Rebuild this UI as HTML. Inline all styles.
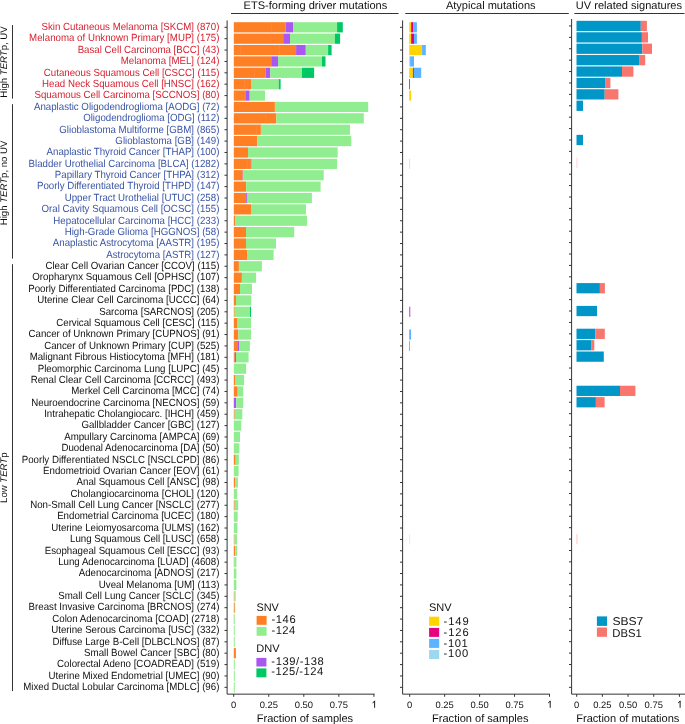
<!DOCTYPE html><html><head><meta charset="utf-8"><style>html,body{margin:0;padding:0;background:#fff;}svg{display:block}text{font-family:"Liberation Sans",sans-serif;text-rendering:geometricPrecision;}</style></head><body>
<svg width="685" height="724" viewBox="0 0 685 724" style="will-change:transform">
<rect x="0" y="0" width="685" height="724" fill="#fff"/>
<g font-size="10.4" text-anchor="end">
<text x="219.4" y="30.10" fill="#D62232" textLength="177.92" lengthAdjust="spacingAndGlyphs">Skin Cutaneous Melanoma [SKCM] (870)</text>
<text x="219.4" y="41.48" fill="#D62232" textLength="190.29" lengthAdjust="spacingAndGlyphs">Melanoma of Unknown Primary [MUP] (175)</text>
<text x="219.4" y="52.86" fill="#D62232" textLength="141.77" lengthAdjust="spacingAndGlyphs">Basal Cell Carcinoma [BCC] (43)</text>
<text x="219.4" y="64.24" fill="#D62232" textLength="98.66" lengthAdjust="spacingAndGlyphs">Melanoma [MEL] (124)</text>
<text x="219.4" y="75.62" fill="#D62232" textLength="175.58" lengthAdjust="spacingAndGlyphs">Cutaneous Squamous Cell [CSCC] (115)</text>
<text x="219.4" y="87.00" fill="#D62232" textLength="177.37" lengthAdjust="spacingAndGlyphs">Head Neck Squamous Cell [HNSC] (162)</text>
<text x="219.4" y="98.38" fill="#D62232" textLength="184.90" lengthAdjust="spacingAndGlyphs">Squamous Cell Carcinoma [SCCNOS] (80)</text>
<text x="219.4" y="109.76" fill="#3A55A6" textLength="185.47" lengthAdjust="spacingAndGlyphs">Anaplastic Oligodendroglioma [AODG] (72)</text>
<text x="219.4" y="121.14" fill="#3A55A6" textLength="136.22" lengthAdjust="spacingAndGlyphs">Oligodendroglioma [ODG] (112)</text>
<text x="219.4" y="132.52" fill="#3A55A6" textLength="160.10" lengthAdjust="spacingAndGlyphs">Glioblastoma Multiforme [GBM] (865)</text>
<text x="219.4" y="143.90" fill="#3A55A6" textLength="104.05" lengthAdjust="spacingAndGlyphs">Glioblastoma [GB] (149)</text>
<text x="219.4" y="155.28" fill="#3A55A6" textLength="172.88" lengthAdjust="spacingAndGlyphs">Anaplastic Thyroid Cancer [THAP] (100)</text>
<text x="219.4" y="166.66" fill="#3A55A6" textLength="190.86" lengthAdjust="spacingAndGlyphs">Bladder Urothelial Carcinoma [BLCA] (1282)</text>
<text x="219.4" y="178.04" fill="#3A55A6" textLength="164.60" lengthAdjust="spacingAndGlyphs">Papillary Thyroid Cancer [THPA] (312)</text>
<text x="219.4" y="189.42" fill="#3A55A6" textLength="182.40" lengthAdjust="spacingAndGlyphs">Poorly Differentiated Thyroid [THPD] (147)</text>
<text x="219.4" y="200.80" fill="#3A55A6" textLength="154.71" lengthAdjust="spacingAndGlyphs">Upper Tract Urothelial [UTUC] (258)</text>
<text x="219.4" y="212.18" fill="#3A55A6" textLength="177.89" lengthAdjust="spacingAndGlyphs">Oral Cavity Squamous Cell [OCSC] (155)</text>
<text x="219.4" y="223.56" fill="#3A55A6" textLength="166.04" lengthAdjust="spacingAndGlyphs">Hepatocellular Carcinoma [HCC] (233)</text>
<text x="219.4" y="234.94" fill="#3A55A6" textLength="154.70" lengthAdjust="spacingAndGlyphs">High-Grade Glioma [HGGNOS] (58)</text>
<text x="219.4" y="246.32" fill="#3A55A6" textLength="166.58" lengthAdjust="spacingAndGlyphs">Anaplastic Astrocytoma [AASTR] (195)</text>
<text x="219.4" y="257.70" fill="#3A55A6" textLength="113.20" lengthAdjust="spacingAndGlyphs">Astrocytoma [ASTR] (127)</text>
<text x="219.4" y="269.08" fill="#111" textLength="173.94" lengthAdjust="spacingAndGlyphs">Clear Cell Ovarian Cancer [CCOV] (115)</text>
<text x="219.4" y="280.46" fill="#111" textLength="187.07" lengthAdjust="spacingAndGlyphs">Oropharynx Squamous Cell [OPHSC] (107)</text>
<text x="219.4" y="291.84" fill="#111" textLength="191.21" lengthAdjust="spacingAndGlyphs">Poorly Differentiated Carcinoma [PDC] (138)</text>
<text x="219.4" y="303.22" fill="#111" textLength="182.19" lengthAdjust="spacingAndGlyphs">Uterine Clear Cell Carcinoma [UCCC] (64)</text>
<text x="219.4" y="314.60" fill="#111" textLength="120.21" lengthAdjust="spacingAndGlyphs">Sarcoma [SARCNOS] (205)</text>
<text x="219.4" y="325.98" fill="#111" textLength="163.16" lengthAdjust="spacingAndGlyphs">Cervical Squamous Cell [CESC] (115)</text>
<text x="219.4" y="337.36" fill="#111" textLength="190.82" lengthAdjust="spacingAndGlyphs">Cancer of Unknown Primary [CUPNOS] (91)</text>
<text x="219.4" y="348.74" fill="#111" textLength="175.20" lengthAdjust="spacingAndGlyphs">Cancer of Unknown Primary [CUP] (525)</text>
<text x="219.4" y="360.12" fill="#111" textLength="189.75" lengthAdjust="spacingAndGlyphs">Malignant Fibrous Histiocytoma [MFH] (181)</text>
<text x="219.4" y="371.50" fill="#111" textLength="181.69" lengthAdjust="spacingAndGlyphs">Pleomorphic Carcinoma Lung [LUPC] (45)</text>
<text x="219.4" y="382.88" fill="#111" textLength="188.67" lengthAdjust="spacingAndGlyphs">Renal Clear Cell Carcinoma [CCRCC] (493)</text>
<text x="219.4" y="394.26" fill="#111" textLength="148.22" lengthAdjust="spacingAndGlyphs">Merkel Cell Carcinoma [MCC] (74)</text>
<text x="219.4" y="405.64" fill="#111" textLength="188.15" lengthAdjust="spacingAndGlyphs">Neuroendocrine Carcinoma [NECNOS] (59)</text>
<text x="219.4" y="417.02" fill="#111" textLength="175.22" lengthAdjust="spacingAndGlyphs">Intrahepatic Cholangiocarc. [IHCH] (459)</text>
<text x="219.4" y="428.40" fill="#111" textLength="138.02" lengthAdjust="spacingAndGlyphs">Gallbladder Cancer [GBC] (127)</text>
<text x="219.4" y="439.78" fill="#111" textLength="155.24" lengthAdjust="spacingAndGlyphs">Ampullary Carcinoma [AMPCA] (69)</text>
<text x="219.4" y="451.16" fill="#111" textLength="157.99" lengthAdjust="spacingAndGlyphs">Duodenal Adenocarcinoma [DA] (50)</text>
<text x="219.4" y="462.54" fill="#111" textLength="197.67" lengthAdjust="spacingAndGlyphs">Poorly Differentiated NSCLC [NSCLCPD] (86)</text>
<text x="219.4" y="473.92" fill="#111" textLength="176.29" lengthAdjust="spacingAndGlyphs">Endometrioid Ovarian Cancer [EOV] (61)</text>
<text x="219.4" y="485.30" fill="#111" textLength="142.87" lengthAdjust="spacingAndGlyphs">Anal Squamous Cell [ANSC] (98)</text>
<text x="219.4" y="496.68" fill="#111" textLength="148.80" lengthAdjust="spacingAndGlyphs">Cholangiocarcinoma [CHOL] (120)</text>
<text x="219.4" y="508.06" fill="#111" textLength="189.23" lengthAdjust="spacingAndGlyphs">Non-Small Cell Lung Cancer [NSCLC] (277)</text>
<text x="219.4" y="519.44" fill="#111" textLength="162.26" lengthAdjust="spacingAndGlyphs">Endometrial Carcinoma [UCEC] (180)</text>
<text x="219.4" y="530.82" fill="#111" textLength="168.20" lengthAdjust="spacingAndGlyphs">Uterine Leiomyosarcoma [ULMS] (162)</text>
<text x="219.4" y="542.20" fill="#111" textLength="149.35" lengthAdjust="spacingAndGlyphs">Lung Squamous Cell [LUSC] (658)</text>
<text x="219.4" y="553.58" fill="#111" textLength="174.69" lengthAdjust="spacingAndGlyphs">Esophageal Squamous Cell [ESCC] (93)</text>
<text x="219.4" y="564.96" fill="#111" textLength="161.23" lengthAdjust="spacingAndGlyphs">Lung Adenocarcinoma [LUAD] (4608)</text>
<text x="219.4" y="576.34" fill="#111" textLength="140.71" lengthAdjust="spacingAndGlyphs">Adenocarcinoma [ADNOS] (217)</text>
<text x="219.4" y="587.72" fill="#111" textLength="120.57" lengthAdjust="spacingAndGlyphs">Uveal Melanoma [UM] (113)</text>
<text x="219.4" y="599.10" fill="#111" textLength="161.20" lengthAdjust="spacingAndGlyphs">Small Cell Lung Cancer [SCLC] (345)</text>
<text x="219.4" y="610.48" fill="#111" textLength="190.83" lengthAdjust="spacingAndGlyphs">Breast Invasive Carcinoma [BRCNOS] (274)</text>
<text x="219.4" y="621.86" fill="#111" textLength="167.14" lengthAdjust="spacingAndGlyphs">Colon Adenocarcinoma [COAD] (2718)</text>
<text x="219.4" y="633.24" fill="#111" textLength="168.20" lengthAdjust="spacingAndGlyphs">Uterine Serous Carcinoma [USC] (332)</text>
<text x="219.4" y="644.62" fill="#111" textLength="166.94" lengthAdjust="spacingAndGlyphs">Diffuse Large B-Cell [DLBCLNOS] (87)</text>
<text x="219.4" y="656.00" fill="#111" textLength="135.31" lengthAdjust="spacingAndGlyphs">Small Bowel Cancer [SBC] (80)</text>
<text x="219.4" y="667.38" fill="#111" textLength="162.28" lengthAdjust="spacingAndGlyphs">Colorectal Adeno [COADREAD] (519)</text>
<text x="219.4" y="678.76" fill="#111" textLength="170.88" lengthAdjust="spacingAndGlyphs">Uterine Mixed Endometrial [UMEC] (90)</text>
<text x="219.4" y="690.14" fill="#111" textLength="196.23" lengthAdjust="spacingAndGlyphs">Mixed Ductal Lobular Carcinoma [MDLC] (96)</text>
</g>
<text transform="translate(6.7,62.0) rotate(-90)" font-size="9.6" text-anchor="middle" fill="#111">High <tspan font-style="italic">TERT</tspan>p, UV</text>
<text transform="translate(6.7,182.9) rotate(-90)" font-size="9.6" text-anchor="middle" fill="#111">High <tspan font-style="italic">TERT</tspan>p, no UV</text>
<text transform="translate(6.7,477.7) rotate(-90)" font-size="9.6" text-anchor="middle" fill="#111">Low <tspan font-style="italic">TERT</tspan>p</text>
<g stroke="#333" stroke-width="1">
<line x1="12.5" y1="25" x2="12.5" y2="98.6"/>
<line x1="12.5" y1="104.2" x2="12.5" y2="258.6"/>
<line x1="12.5" y1="264.2" x2="12.5" y2="691.1"/>
</g>
<g font-size="11.05" text-anchor="middle" fill="#111">
<text x="315.45" y="8.7">ETS-forming driver mutations</text>
<text x="490.74" y="8.7">Atypical mutations</text>
<text x="628.92" y="9.1">UV related signatures</text>
</g>
<g stroke="#333" stroke-width="1.1">
<line x1="231" y1="13.5" x2="398.6" y2="13.5"/>
<line x1="405.3" y1="13.5" x2="568.8" y2="13.5"/>
<line x1="574.4" y1="13.5" x2="684.5" y2="13.5"/>
</g>
<rect x="233.80" y="22.20" width="51.80" height="10.2" fill="#FF7F24"/>
<rect x="285.60" y="22.20" width="7.50" height="10.2" fill="#A957F0"/>
<rect x="293.10" y="22.20" width="44.00" height="10.2" fill="#90EE90"/>
<rect x="337.10" y="22.20" width="5.70" height="10.2" fill="#00C864"/>
<rect x="233.80" y="33.58" width="49.40" height="10.2" fill="#FF7F24"/>
<rect x="283.20" y="33.58" width="6.80" height="10.2" fill="#A957F0"/>
<rect x="290.00" y="33.58" width="44.90" height="10.2" fill="#90EE90"/>
<rect x="334.90" y="33.58" width="5.20" height="10.2" fill="#00C864"/>
<rect x="233.80" y="44.96" width="62.30" height="10.2" fill="#FF7F24"/>
<rect x="296.10" y="44.96" width="9.70" height="10.2" fill="#A957F0"/>
<rect x="305.80" y="44.96" width="22.30" height="10.2" fill="#90EE90"/>
<rect x="328.10" y="44.96" width="3.50" height="10.2" fill="#00C864"/>
<rect x="233.80" y="56.34" width="37.40" height="10.2" fill="#FF7F24"/>
<rect x="271.20" y="56.34" width="6.80" height="10.2" fill="#A957F0"/>
<rect x="278.00" y="56.34" width="44.00" height="10.2" fill="#90EE90"/>
<rect x="322.00" y="56.34" width="3.50" height="10.2" fill="#00C864"/>
<rect x="233.80" y="67.72" width="31.90" height="10.2" fill="#FF7F24"/>
<rect x="265.70" y="67.72" width="4.60" height="10.2" fill="#A957F0"/>
<rect x="270.30" y="67.72" width="31.70" height="10.2" fill="#90EE90"/>
<rect x="302.00" y="67.72" width="12.10" height="10.2" fill="#00C864"/>
<rect x="233.80" y="79.10" width="17.20" height="10.2" fill="#FF7F24"/>
<rect x="251.00" y="79.10" width="27.80" height="10.2" fill="#90EE90"/>
<rect x="278.80" y="79.10" width="1.80" height="10.2" fill="#00C864"/>
<rect x="233.80" y="90.48" width="12.20" height="10.2" fill="#FF7F24"/>
<rect x="246.00" y="90.48" width="3.70" height="10.2" fill="#A957F0"/>
<rect x="249.70" y="90.48" width="15.30" height="10.2" fill="#90EE90"/>
<rect x="233.80" y="101.86" width="41.10" height="10.2" fill="#FF7F24"/>
<rect x="274.90" y="101.86" width="93.30" height="10.2" fill="#90EE90"/>
<rect x="233.80" y="113.24" width="42.60" height="10.2" fill="#FF7F24"/>
<rect x="276.40" y="113.24" width="87.40" height="10.2" fill="#90EE90"/>
<rect x="233.80" y="124.62" width="27.10" height="10.2" fill="#FF7F24"/>
<rect x="260.90" y="124.62" width="89.10" height="10.2" fill="#90EE90"/>
<rect x="233.80" y="136.00" width="23.40" height="10.2" fill="#FF7F24"/>
<rect x="257.20" y="136.00" width="94.10" height="10.2" fill="#90EE90"/>
<rect x="233.80" y="147.38" width="14.20" height="10.2" fill="#FF7F24"/>
<rect x="248.00" y="147.38" width="89.70" height="10.2" fill="#90EE90"/>
<rect x="233.80" y="158.76" width="17.10" height="10.2" fill="#FF7F24"/>
<rect x="250.90" y="158.76" width="0.70" height="10.2" fill="#A957F0"/>
<rect x="251.60" y="158.76" width="85.50" height="10.2" fill="#90EE90"/>
<rect x="233.80" y="170.14" width="8.90" height="10.2" fill="#FF7F24"/>
<rect x="242.70" y="170.14" width="0.60" height="10.2" fill="#A957F0"/>
<rect x="243.30" y="170.14" width="80.40" height="10.2" fill="#90EE90"/>
<rect x="233.80" y="181.52" width="12.40" height="10.2" fill="#FF7F24"/>
<rect x="246.20" y="181.52" width="74.40" height="10.2" fill="#90EE90"/>
<rect x="233.80" y="192.90" width="12.40" height="10.2" fill="#FF7F24"/>
<rect x="246.20" y="192.90" width="1.30" height="10.2" fill="#A957F0"/>
<rect x="247.50" y="192.90" width="64.40" height="10.2" fill="#90EE90"/>
<rect x="233.80" y="204.28" width="17.20" height="10.2" fill="#FF7F24"/>
<rect x="251.00" y="204.28" width="55.00" height="10.2" fill="#90EE90"/>
<rect x="233.80" y="215.66" width="1.70" height="10.2" fill="#FF7F24"/>
<rect x="235.50" y="215.66" width="71.60" height="10.2" fill="#90EE90"/>
<rect x="233.80" y="227.04" width="12.20" height="10.2" fill="#FF7F24"/>
<rect x="246.00" y="227.04" width="48.20" height="10.2" fill="#90EE90"/>
<rect x="233.80" y="238.42" width="12.20" height="10.2" fill="#FF7F24"/>
<rect x="246.00" y="238.42" width="30.00" height="10.2" fill="#90EE90"/>
<rect x="233.80" y="249.80" width="13.30" height="10.2" fill="#FF7F24"/>
<rect x="247.10" y="249.80" width="26.50" height="10.2" fill="#90EE90"/>
<rect x="233.80" y="261.18" width="5.10" height="10.2" fill="#FF7F24"/>
<rect x="238.90" y="261.18" width="23.00" height="10.2" fill="#90EE90"/>
<rect x="233.80" y="272.56" width="8.10" height="10.2" fill="#FF7F24"/>
<rect x="241.90" y="272.56" width="14.20" height="10.2" fill="#90EE90"/>
<rect x="233.80" y="283.94" width="6.20" height="10.2" fill="#FF7F24"/>
<rect x="240.00" y="283.94" width="12.00" height="10.2" fill="#90EE90"/>
<rect x="233.80" y="295.32" width="2.20" height="10.2" fill="#FF7F24"/>
<rect x="236.00" y="295.32" width="15.20" height="10.2" fill="#90EE90"/>
<rect x="233.80" y="306.70" width="0.90" height="10.2" fill="#FF7F24"/>
<rect x="234.70" y="306.70" width="15.30" height="10.2" fill="#90EE90"/>
<rect x="250.00" y="306.70" width="1.00" height="10.2" fill="#00C864"/>
<rect x="233.80" y="318.08" width="3.80" height="10.2" fill="#FF7F24"/>
<rect x="237.60" y="318.08" width="13.40" height="10.2" fill="#90EE90"/>
<rect x="233.80" y="329.46" width="4.60" height="10.2" fill="#FF7F24"/>
<rect x="238.40" y="329.46" width="12.60" height="10.2" fill="#90EE90"/>
<rect x="233.80" y="340.84" width="4.20" height="10.2" fill="#FF7F24"/>
<rect x="238.00" y="340.84" width="1.00" height="10.2" fill="#A957F0"/>
<rect x="239.00" y="340.84" width="10.90" height="10.2" fill="#90EE90"/>
<rect x="233.80" y="352.22" width="1.00" height="10.2" fill="#FF7F24"/>
<rect x="234.80" y="352.22" width="1.20" height="10.2" fill="#A957F0"/>
<rect x="236.00" y="352.22" width="12.60" height="10.2" fill="#90EE90"/>
<rect x="233.80" y="363.60" width="12.30" height="10.2" fill="#90EE90"/>
<rect x="233.80" y="374.98" width="1.20" height="10.2" fill="#FF7F24"/>
<rect x="235.00" y="374.98" width="9.10" height="10.2" fill="#90EE90"/>
<rect x="233.80" y="386.36" width="3.90" height="10.2" fill="#FF7F24"/>
<rect x="237.70" y="386.36" width="5.50" height="10.2" fill="#90EE90"/>
<rect x="233.80" y="397.74" width="2.40" height="10.2" fill="#A957F0"/>
<rect x="236.20" y="397.74" width="7.00" height="10.2" fill="#90EE90"/>
<rect x="233.80" y="409.12" width="0.90" height="10.2" fill="#FF7F24"/>
<rect x="234.70" y="409.12" width="7.60" height="10.2" fill="#90EE90"/>
<rect x="233.80" y="420.50" width="7.40" height="10.2" fill="#90EE90"/>
<rect x="233.80" y="431.88" width="6.20" height="10.2" fill="#90EE90"/>
<rect x="233.80" y="443.26" width="5.60" height="10.2" fill="#90EE90"/>
<rect x="233.80" y="454.64" width="1.90" height="10.2" fill="#FF7F24"/>
<rect x="235.70" y="454.64" width="3.20" height="10.2" fill="#90EE90"/>
<rect x="233.80" y="466.02" width="4.80" height="10.2" fill="#90EE90"/>
<rect x="233.80" y="477.40" width="1.40" height="10.2" fill="#FF7F24"/>
<rect x="235.20" y="477.40" width="2.70" height="10.2" fill="#90EE90"/>
<rect x="233.80" y="488.78" width="3.40" height="10.2" fill="#90EE90"/>
<rect x="233.80" y="500.16" width="0.90" height="10.2" fill="#FF7F24"/>
<rect x="234.70" y="500.16" width="3.50" height="10.2" fill="#90EE90"/>
<rect x="233.80" y="511.54" width="3.90" height="10.2" fill="#90EE90"/>
<rect x="233.80" y="522.92" width="3.60" height="10.2" fill="#90EE90"/>
<rect x="233.80" y="534.30" width="0.70" height="10.2" fill="#FF7F24"/>
<rect x="234.50" y="534.30" width="2.50" height="10.2" fill="#90EE90"/>
<rect x="233.80" y="545.68" width="1.40" height="10.2" fill="#FF7F24"/>
<rect x="235.20" y="545.68" width="1.80" height="10.2" fill="#90EE90"/>
<rect x="233.80" y="557.06" width="0.40" height="10.2" fill="#FF7F24"/>
<rect x="234.20" y="557.06" width="2.20" height="10.2" fill="#90EE90"/>
<rect x="233.80" y="568.44" width="2.60" height="10.2" fill="#90EE90"/>
<rect x="233.80" y="579.82" width="2.60" height="10.2" fill="#90EE90"/>
<rect x="233.80" y="591.20" width="0.70" height="10.2" fill="#FF7F24"/>
<rect x="234.50" y="591.20" width="1.20" height="10.2" fill="#90EE90"/>
<rect x="233.80" y="602.58" width="1.00" height="10.2" fill="#FF7F24"/>
<rect x="234.80" y="602.58" width="0.40" height="10.2" fill="#90EE90"/>
<rect x="233.80" y="613.96" width="0.40" height="10.2" fill="#FF7F24"/>
<rect x="234.20" y="613.96" width="0.60" height="10.2" fill="#90EE90"/>
<rect x="233.80" y="625.34" width="1.00" height="10.2" fill="#90EE90"/>
<rect x="233.80" y="636.72" width="1.00" height="10.2" fill="#90EE90"/>
<rect x="233.80" y="648.10" width="2.10" height="10.2" fill="#FF7F24"/>
<rect x="233.80" y="659.48" width="1.00" height="10.2" fill="#90EE90"/>
<rect x="233.80" y="670.86" width="1.00" height="10.2" fill="#90EE90"/>
<rect x="233.80" y="682.24" width="1.00" height="10.2" fill="#90EE90"/>
<rect x="409.20" y="22.20" width="1.90" height="10.2" fill="#FFD500"/>
<rect x="411.10" y="22.20" width="1.90" height="10.2" fill="#E6007E"/>
<rect x="413.00" y="22.20" width="3.90" height="10.2" fill="#5CB3FF"/>
<rect x="409.20" y="33.58" width="1.90" height="10.2" fill="#FFD500"/>
<rect x="411.10" y="33.58" width="2.90" height="10.2" fill="#E6007E"/>
<rect x="414.00" y="33.58" width="2.90" height="10.2" fill="#5CB3FF"/>
<rect x="409.20" y="44.96" width="12.90" height="10.2" fill="#FFD500"/>
<rect x="422.10" y="44.96" width="3.70" height="10.2" fill="#5CB3FF"/>
<rect x="409.20" y="56.34" width="0.90" height="10.2" fill="#FFD500"/>
<rect x="410.10" y="56.34" width="3.90" height="10.2" fill="#5CB3FF"/>
<rect x="409.20" y="67.72" width="3.70" height="10.2" fill="#FFD500"/>
<rect x="412.90" y="67.72" width="1.00" height="10.2" fill="#E6007E"/>
<rect x="413.90" y="67.72" width="7.30" height="10.2" fill="#5CB3FF"/>
<rect x="409.20" y="79.10" width="0.80" height="10.2" fill="#E6007E"/>
<rect x="409.20" y="90.48" width="1.80" height="10.2" fill="#FFD500"/>
<rect x="409.20" y="158.76" width="0.90" height="10.2" fill="#F9CCEA"/>
<rect x="409.20" y="534.30" width="0.90" height="10.2" fill="#D6EDFA"/>
<rect x="409.20" y="306.70" width="1.10" height="10.2" fill="#C24FC8"/>
<rect x="409.20" y="329.46" width="1.80" height="10.2" fill="#5CB3FF"/>
<rect x="409.20" y="340.84" width="0.80" height="10.2" fill="#9A8AE8"/>
<rect x="576.50" y="20.82" width="64.30" height="10.25" fill="#0096C8"/>
<rect x="640.80" y="20.82" width="6.10" height="10.25" fill="#F8766D"/>
<rect x="576.50" y="32.23" width="65.40" height="10.25" fill="#0096C8"/>
<rect x="641.90" y="32.23" width="6.10" height="10.25" fill="#F8766D"/>
<rect x="576.50" y="43.63" width="65.80" height="10.25" fill="#0096C8"/>
<rect x="642.30" y="43.63" width="9.70" height="10.25" fill="#F8766D"/>
<rect x="576.50" y="55.03" width="63.10" height="10.25" fill="#0096C8"/>
<rect x="639.60" y="55.03" width="5.60" height="10.25" fill="#F8766D"/>
<rect x="576.50" y="66.44" width="45.50" height="10.25" fill="#0096C8"/>
<rect x="622.00" y="66.44" width="11.40" height="10.25" fill="#F8766D"/>
<rect x="576.50" y="77.84" width="28.60" height="10.25" fill="#0096C8"/>
<rect x="605.10" y="77.84" width="5.30" height="10.25" fill="#F8766D"/>
<rect x="576.50" y="89.24" width="28.20" height="10.25" fill="#0096C8"/>
<rect x="604.70" y="89.24" width="13.70" height="10.25" fill="#F8766D"/>
<rect x="576.50" y="100.65" width="6.50" height="10.25" fill="#0096C8"/>
<rect x="576.50" y="134.85" width="6.50" height="10.25" fill="#0096C8"/>
<rect x="576.50" y="157.66" width="0.90" height="10.25" fill="#FCD2D0"/>
<rect x="576.50" y="283.09" width="23.40" height="10.25" fill="#0096C8"/>
<rect x="599.90" y="283.09" width="5.00" height="10.25" fill="#F8766D"/>
<rect x="576.50" y="305.90" width="20.50" height="10.25" fill="#0096C8"/>
<rect x="576.50" y="328.71" width="18.90" height="10.25" fill="#0096C8"/>
<rect x="595.40" y="328.71" width="9.40" height="10.25" fill="#F8766D"/>
<rect x="576.50" y="340.11" width="14.60" height="10.25" fill="#0096C8"/>
<rect x="591.10" y="340.11" width="3.20" height="10.25" fill="#F8766D"/>
<rect x="576.50" y="351.51" width="27.30" height="10.25" fill="#0096C8"/>
<rect x="576.50" y="385.72" width="43.50" height="10.25" fill="#0096C8"/>
<rect x="620.00" y="385.72" width="15.40" height="10.25" fill="#F8766D"/>
<rect x="576.50" y="397.12" width="19.40" height="10.25" fill="#0096C8"/>
<rect x="595.90" y="397.12" width="8.70" height="10.25" fill="#F8766D"/>
<rect x="576.50" y="533.96" width="0.90" height="10.25" fill="#FFBEBE"/>
<g stroke="#FF9048" stroke-width="0.5">
<line x1="271.3" y1="22.20" x2="271.3" y2="32.40"/>
<line x1="240.4" y1="44.96" x2="240.4" y2="55.16"/>
<line x1="279.5" y1="44.96" x2="279.5" y2="55.16"/>
<line x1="254.4" y1="67.72" x2="254.4" y2="77.92"/>
<line x1="244.6" y1="79.10" x2="244.6" y2="89.30"/>
<line x1="235.4" y1="90.48" x2="235.4" y2="100.68"/>
<line x1="244.6" y1="90.48" x2="244.6" y2="100.68"/>
<line x1="265.4" y1="113.24" x2="265.4" y2="123.44"/>
<line x1="256.4" y1="124.62" x2="256.4" y2="134.82"/>
<line x1="247.1" y1="158.76" x2="247.1" y2="168.96"/>
</g>
<g stroke="#333" stroke-width="1" fill="none">
<path d="M227.1,20.4 V694.15 H374.6"/>
<line x1="224.5" y1="27.30" x2="227.1" y2="27.30"/>
<line x1="224.5" y1="38.68" x2="227.1" y2="38.68"/>
<line x1="224.5" y1="50.06" x2="227.1" y2="50.06"/>
<line x1="224.5" y1="61.44" x2="227.1" y2="61.44"/>
<line x1="224.5" y1="72.82" x2="227.1" y2="72.82"/>
<line x1="224.5" y1="84.20" x2="227.1" y2="84.20"/>
<line x1="224.5" y1="95.58" x2="227.1" y2="95.58"/>
<line x1="224.5" y1="106.96" x2="227.1" y2="106.96"/>
<line x1="224.5" y1="118.34" x2="227.1" y2="118.34"/>
<line x1="224.5" y1="129.72" x2="227.1" y2="129.72"/>
<line x1="224.5" y1="141.10" x2="227.1" y2="141.10"/>
<line x1="224.5" y1="152.48" x2="227.1" y2="152.48"/>
<line x1="224.5" y1="163.86" x2="227.1" y2="163.86"/>
<line x1="224.5" y1="175.24" x2="227.1" y2="175.24"/>
<line x1="224.5" y1="186.62" x2="227.1" y2="186.62"/>
<line x1="224.5" y1="198.00" x2="227.1" y2="198.00"/>
<line x1="224.5" y1="209.38" x2="227.1" y2="209.38"/>
<line x1="224.5" y1="220.76" x2="227.1" y2="220.76"/>
<line x1="224.5" y1="232.14" x2="227.1" y2="232.14"/>
<line x1="224.5" y1="243.52" x2="227.1" y2="243.52"/>
<line x1="224.5" y1="254.90" x2="227.1" y2="254.90"/>
<line x1="224.5" y1="266.28" x2="227.1" y2="266.28"/>
<line x1="224.5" y1="277.66" x2="227.1" y2="277.66"/>
<line x1="224.5" y1="289.04" x2="227.1" y2="289.04"/>
<line x1="224.5" y1="300.42" x2="227.1" y2="300.42"/>
<line x1="224.5" y1="311.80" x2="227.1" y2="311.80"/>
<line x1="224.5" y1="323.18" x2="227.1" y2="323.18"/>
<line x1="224.5" y1="334.56" x2="227.1" y2="334.56"/>
<line x1="224.5" y1="345.94" x2="227.1" y2="345.94"/>
<line x1="224.5" y1="357.32" x2="227.1" y2="357.32"/>
<line x1="224.5" y1="368.70" x2="227.1" y2="368.70"/>
<line x1="224.5" y1="380.08" x2="227.1" y2="380.08"/>
<line x1="224.5" y1="391.46" x2="227.1" y2="391.46"/>
<line x1="224.5" y1="402.84" x2="227.1" y2="402.84"/>
<line x1="224.5" y1="414.22" x2="227.1" y2="414.22"/>
<line x1="224.5" y1="425.60" x2="227.1" y2="425.60"/>
<line x1="224.5" y1="436.98" x2="227.1" y2="436.98"/>
<line x1="224.5" y1="448.36" x2="227.1" y2="448.36"/>
<line x1="224.5" y1="459.74" x2="227.1" y2="459.74"/>
<line x1="224.5" y1="471.12" x2="227.1" y2="471.12"/>
<line x1="224.5" y1="482.50" x2="227.1" y2="482.50"/>
<line x1="224.5" y1="493.88" x2="227.1" y2="493.88"/>
<line x1="224.5" y1="505.26" x2="227.1" y2="505.26"/>
<line x1="224.5" y1="516.64" x2="227.1" y2="516.64"/>
<line x1="224.5" y1="528.02" x2="227.1" y2="528.02"/>
<line x1="224.5" y1="539.40" x2="227.1" y2="539.40"/>
<line x1="224.5" y1="550.78" x2="227.1" y2="550.78"/>
<line x1="224.5" y1="562.16" x2="227.1" y2="562.16"/>
<line x1="224.5" y1="573.54" x2="227.1" y2="573.54"/>
<line x1="224.5" y1="584.92" x2="227.1" y2="584.92"/>
<line x1="224.5" y1="596.30" x2="227.1" y2="596.30"/>
<line x1="224.5" y1="607.68" x2="227.1" y2="607.68"/>
<line x1="224.5" y1="619.06" x2="227.1" y2="619.06"/>
<line x1="224.5" y1="630.44" x2="227.1" y2="630.44"/>
<line x1="224.5" y1="641.82" x2="227.1" y2="641.82"/>
<line x1="224.5" y1="653.20" x2="227.1" y2="653.20"/>
<line x1="224.5" y1="664.58" x2="227.1" y2="664.58"/>
<line x1="224.5" y1="675.96" x2="227.1" y2="675.96"/>
<line x1="224.5" y1="687.34" x2="227.1" y2="687.34"/>
<line x1="233.70" y1="694.15" x2="233.70" y2="696.8"/>
<line x1="268.75" y1="694.15" x2="268.75" y2="696.8"/>
<line x1="303.80" y1="694.15" x2="303.80" y2="696.8"/>
<line x1="338.85" y1="694.15" x2="338.85" y2="696.8"/>
<line x1="373.90" y1="694.15" x2="373.90" y2="696.8"/>
</g>
<g font-size="9.4" text-anchor="middle" fill="#111">
<text x="233.70" y="707.75">0</text>
<text x="268.75" y="707.75">0.25</text>
<text x="303.80" y="707.75">0.50</text>
<text x="338.85" y="707.75">0.75</text>
<path d="M374.60,700.9 V707.75 M372.60,702.9 Q374.10,702.3 374.60,700.9" stroke="#111" stroke-width="0.95" fill="none"/>
</g>
<g stroke="#333" stroke-width="1" fill="none">
<path d="M402.6,20.4 V694.15 H549.9"/>
<line x1="400.0" y1="27.30" x2="402.6" y2="27.30"/>
<line x1="400.0" y1="38.68" x2="402.6" y2="38.68"/>
<line x1="400.0" y1="50.06" x2="402.6" y2="50.06"/>
<line x1="400.0" y1="61.44" x2="402.6" y2="61.44"/>
<line x1="400.0" y1="72.82" x2="402.6" y2="72.82"/>
<line x1="400.0" y1="84.20" x2="402.6" y2="84.20"/>
<line x1="400.0" y1="95.58" x2="402.6" y2="95.58"/>
<line x1="400.0" y1="106.96" x2="402.6" y2="106.96"/>
<line x1="400.0" y1="118.34" x2="402.6" y2="118.34"/>
<line x1="400.0" y1="129.72" x2="402.6" y2="129.72"/>
<line x1="400.0" y1="141.10" x2="402.6" y2="141.10"/>
<line x1="400.0" y1="152.48" x2="402.6" y2="152.48"/>
<line x1="400.0" y1="163.86" x2="402.6" y2="163.86"/>
<line x1="400.0" y1="175.24" x2="402.6" y2="175.24"/>
<line x1="400.0" y1="186.62" x2="402.6" y2="186.62"/>
<line x1="400.0" y1="198.00" x2="402.6" y2="198.00"/>
<line x1="400.0" y1="209.38" x2="402.6" y2="209.38"/>
<line x1="400.0" y1="220.76" x2="402.6" y2="220.76"/>
<line x1="400.0" y1="232.14" x2="402.6" y2="232.14"/>
<line x1="400.0" y1="243.52" x2="402.6" y2="243.52"/>
<line x1="400.0" y1="254.90" x2="402.6" y2="254.90"/>
<line x1="400.0" y1="266.28" x2="402.6" y2="266.28"/>
<line x1="400.0" y1="277.66" x2="402.6" y2="277.66"/>
<line x1="400.0" y1="289.04" x2="402.6" y2="289.04"/>
<line x1="400.0" y1="300.42" x2="402.6" y2="300.42"/>
<line x1="400.0" y1="311.80" x2="402.6" y2="311.80"/>
<line x1="400.0" y1="323.18" x2="402.6" y2="323.18"/>
<line x1="400.0" y1="334.56" x2="402.6" y2="334.56"/>
<line x1="400.0" y1="345.94" x2="402.6" y2="345.94"/>
<line x1="400.0" y1="357.32" x2="402.6" y2="357.32"/>
<line x1="400.0" y1="368.70" x2="402.6" y2="368.70"/>
<line x1="400.0" y1="380.08" x2="402.6" y2="380.08"/>
<line x1="400.0" y1="391.46" x2="402.6" y2="391.46"/>
<line x1="400.0" y1="402.84" x2="402.6" y2="402.84"/>
<line x1="400.0" y1="414.22" x2="402.6" y2="414.22"/>
<line x1="400.0" y1="425.60" x2="402.6" y2="425.60"/>
<line x1="400.0" y1="436.98" x2="402.6" y2="436.98"/>
<line x1="400.0" y1="448.36" x2="402.6" y2="448.36"/>
<line x1="400.0" y1="459.74" x2="402.6" y2="459.74"/>
<line x1="400.0" y1="471.12" x2="402.6" y2="471.12"/>
<line x1="400.0" y1="482.50" x2="402.6" y2="482.50"/>
<line x1="400.0" y1="493.88" x2="402.6" y2="493.88"/>
<line x1="400.0" y1="505.26" x2="402.6" y2="505.26"/>
<line x1="400.0" y1="516.64" x2="402.6" y2="516.64"/>
<line x1="400.0" y1="528.02" x2="402.6" y2="528.02"/>
<line x1="400.0" y1="539.40" x2="402.6" y2="539.40"/>
<line x1="400.0" y1="550.78" x2="402.6" y2="550.78"/>
<line x1="400.0" y1="562.16" x2="402.6" y2="562.16"/>
<line x1="400.0" y1="573.54" x2="402.6" y2="573.54"/>
<line x1="400.0" y1="584.92" x2="402.6" y2="584.92"/>
<line x1="400.0" y1="596.30" x2="402.6" y2="596.30"/>
<line x1="400.0" y1="607.68" x2="402.6" y2="607.68"/>
<line x1="400.0" y1="619.06" x2="402.6" y2="619.06"/>
<line x1="400.0" y1="630.44" x2="402.6" y2="630.44"/>
<line x1="400.0" y1="641.82" x2="402.6" y2="641.82"/>
<line x1="400.0" y1="653.20" x2="402.6" y2="653.20"/>
<line x1="400.0" y1="664.58" x2="402.6" y2="664.58"/>
<line x1="400.0" y1="675.96" x2="402.6" y2="675.96"/>
<line x1="400.0" y1="687.34" x2="402.6" y2="687.34"/>
<line x1="409.70" y1="694.15" x2="409.70" y2="696.8"/>
<line x1="444.65" y1="694.15" x2="444.65" y2="696.8"/>
<line x1="479.60" y1="694.15" x2="479.60" y2="696.8"/>
<line x1="514.55" y1="694.15" x2="514.55" y2="696.8"/>
<line x1="549.50" y1="694.15" x2="549.50" y2="696.8"/>
</g>
<g font-size="9.4" text-anchor="middle" fill="#111">
<text x="409.70" y="707.75">0</text>
<text x="444.65" y="707.75">0.25</text>
<text x="479.60" y="707.75">0.50</text>
<text x="514.55" y="707.75">0.75</text>
<path d="M550.20,700.9 V707.75 M548.20,702.9 Q549.70,702.3 550.20,700.9" stroke="#111" stroke-width="0.95" fill="none"/>
</g>
<g stroke="#333" stroke-width="1" fill="none">
<path d="M571.6,19.0 V694.15 H685.5"/>
<line x1="569.0" y1="25.95" x2="571.6" y2="25.95"/>
<line x1="569.0" y1="37.35" x2="571.6" y2="37.35"/>
<line x1="569.0" y1="48.76" x2="571.6" y2="48.76"/>
<line x1="569.0" y1="60.16" x2="571.6" y2="60.16"/>
<line x1="569.0" y1="71.56" x2="571.6" y2="71.56"/>
<line x1="569.0" y1="82.97" x2="571.6" y2="82.97"/>
<line x1="569.0" y1="94.37" x2="571.6" y2="94.37"/>
<line x1="569.0" y1="105.77" x2="571.6" y2="105.77"/>
<line x1="569.0" y1="117.17" x2="571.6" y2="117.17"/>
<line x1="569.0" y1="128.58" x2="571.6" y2="128.58"/>
<line x1="569.0" y1="139.98" x2="571.6" y2="139.98"/>
<line x1="569.0" y1="151.38" x2="571.6" y2="151.38"/>
<line x1="569.0" y1="162.79" x2="571.6" y2="162.79"/>
<line x1="569.0" y1="174.19" x2="571.6" y2="174.19"/>
<line x1="569.0" y1="185.59" x2="571.6" y2="185.59"/>
<line x1="569.0" y1="197.00" x2="571.6" y2="197.00"/>
<line x1="569.0" y1="208.40" x2="571.6" y2="208.40"/>
<line x1="569.0" y1="219.80" x2="571.6" y2="219.80"/>
<line x1="569.0" y1="231.20" x2="571.6" y2="231.20"/>
<line x1="569.0" y1="242.61" x2="571.6" y2="242.61"/>
<line x1="569.0" y1="254.01" x2="571.6" y2="254.01"/>
<line x1="569.0" y1="265.41" x2="571.6" y2="265.41"/>
<line x1="569.0" y1="276.82" x2="571.6" y2="276.82"/>
<line x1="569.0" y1="288.22" x2="571.6" y2="288.22"/>
<line x1="569.0" y1="299.62" x2="571.6" y2="299.62"/>
<line x1="569.0" y1="311.02" x2="571.6" y2="311.02"/>
<line x1="569.0" y1="322.43" x2="571.6" y2="322.43"/>
<line x1="569.0" y1="333.83" x2="571.6" y2="333.83"/>
<line x1="569.0" y1="345.23" x2="571.6" y2="345.23"/>
<line x1="569.0" y1="356.64" x2="571.6" y2="356.64"/>
<line x1="569.0" y1="368.04" x2="571.6" y2="368.04"/>
<line x1="569.0" y1="379.44" x2="571.6" y2="379.44"/>
<line x1="569.0" y1="390.85" x2="571.6" y2="390.85"/>
<line x1="569.0" y1="402.25" x2="571.6" y2="402.25"/>
<line x1="569.0" y1="413.65" x2="571.6" y2="413.65"/>
<line x1="569.0" y1="425.06" x2="571.6" y2="425.06"/>
<line x1="569.0" y1="436.46" x2="571.6" y2="436.46"/>
<line x1="569.0" y1="447.86" x2="571.6" y2="447.86"/>
<line x1="569.0" y1="459.26" x2="571.6" y2="459.26"/>
<line x1="569.0" y1="470.67" x2="571.6" y2="470.67"/>
<line x1="569.0" y1="482.07" x2="571.6" y2="482.07"/>
<line x1="569.0" y1="493.47" x2="571.6" y2="493.47"/>
<line x1="569.0" y1="504.88" x2="571.6" y2="504.88"/>
<line x1="569.0" y1="516.28" x2="571.6" y2="516.28"/>
<line x1="569.0" y1="527.68" x2="571.6" y2="527.68"/>
<line x1="569.0" y1="539.09" x2="571.6" y2="539.09"/>
<line x1="569.0" y1="550.49" x2="571.6" y2="550.49"/>
<line x1="569.0" y1="561.89" x2="571.6" y2="561.89"/>
<line x1="569.0" y1="573.29" x2="571.6" y2="573.29"/>
<line x1="569.0" y1="584.70" x2="571.6" y2="584.70"/>
<line x1="569.0" y1="596.10" x2="571.6" y2="596.10"/>
<line x1="569.0" y1="607.50" x2="571.6" y2="607.50"/>
<line x1="569.0" y1="618.91" x2="571.6" y2="618.91"/>
<line x1="569.0" y1="630.31" x2="571.6" y2="630.31"/>
<line x1="569.0" y1="641.71" x2="571.6" y2="641.71"/>
<line x1="569.0" y1="653.12" x2="571.6" y2="653.12"/>
<line x1="569.0" y1="664.52" x2="571.6" y2="664.52"/>
<line x1="569.0" y1="675.92" x2="571.6" y2="675.92"/>
<line x1="569.0" y1="687.32" x2="571.6" y2="687.32"/>
<line x1="576.70" y1="694.15" x2="576.70" y2="696.8"/>
<line x1="602.38" y1="694.15" x2="602.38" y2="696.8"/>
<line x1="628.06" y1="694.15" x2="628.06" y2="696.8"/>
<line x1="653.74" y1="694.15" x2="653.74" y2="696.8"/>
<line x1="679.42" y1="694.15" x2="679.42" y2="696.8"/>
</g>
<g font-size="9.4" text-anchor="middle" fill="#111">
<text x="576.70" y="707.75">0</text>
<text x="602.38" y="707.75">0.25</text>
<text x="628.06" y="707.75">0.50</text>
<text x="653.74" y="707.75">0.75</text>
<path d="M680.12,700.9 V707.75 M678.12,702.9 Q679.62,702.3 680.12,700.9" stroke="#111" stroke-width="0.95" fill="none"/>
</g>
<g font-size="11.05" text-anchor="middle" fill="#111">
<text x="304.95" y="721.5">Fraction of samples</text>
<text x="480.25" y="721.5">Fraction of samples</text>
<text x="627.82" y="721.5">Fraction of mutations</text>
</g>
<text x="256.40" y="610.7" font-size="11.0" fill="#111" textLength="22.45" lengthAdjust="spacingAndGlyphs">SNV</text>
<rect x="256.6" y="615.9" width="10.00" height="8.90" fill="#FF7F24"/>
<text x="271.40" y="622.8" font-size="11.2" fill="#111" textLength="24.29" lengthAdjust="spacing">-146</text>
<rect x="256.6" y="627.0" width="10.00" height="8.80" fill="#90EE90"/>
<text x="271.40" y="633.9" font-size="11.2" fill="#111" textLength="23.93" lengthAdjust="spacing">-124</text>
<text x="256.25" y="652.2" font-size="11.0" fill="#111" textLength="23.34" lengthAdjust="spacingAndGlyphs">DNV</text>
<rect x="256.4" y="657.9" width="10.00" height="8.60" fill="#A957F0"/>
<text x="271.37" y="664.8" font-size="11.2" fill="#111" textLength="52.48" lengthAdjust="spacing">-139/-138</text>
<rect x="256.4" y="668.4" width="10.00" height="8.90" fill="#00C864"/>
<text x="271.37" y="675.3" font-size="11.2" fill="#111" textLength="51.81" lengthAdjust="spacing">-125/-124</text>
<text x="429.03" y="611.1" font-size="11.0" fill="#111" textLength="22.64" lengthAdjust="spacingAndGlyphs">SNV</text>
<rect x="429.1" y="616.7" width="10.10" height="9.10" fill="#FFD500"/>
<text x="443.60" y="624.7" font-size="11.2" fill="#111" textLength="25.13" lengthAdjust="spacing">-149</text>
<rect x="429.1" y="627.9" width="10.10" height="9.00" fill="#E6007E"/>
<text x="443.60" y="635.8" font-size="11.2" fill="#111" textLength="25.09" lengthAdjust="spacing">-126</text>
<rect x="429.1" y="638.8" width="10.10" height="9.10" fill="#5CB3FF"/>
<text x="443.60" y="646.8" font-size="11.2" fill="#111" textLength="24.24" lengthAdjust="spacing">-101</text>
<rect x="429.1" y="649.9" width="10.10" height="9.10" fill="#9ED8F0"/>
<text x="443.60" y="657.0" font-size="11.2" fill="#111" textLength="24.54" lengthAdjust="spacing">-100</text>
<rect x="596.9" y="616.4" width="10.10" height="9.50" fill="#0096C8"/>
<text x="612.45" y="624.75" font-size="11.3" fill="#111" textLength="30.86" lengthAdjust="spacingAndGlyphs">SBS7</text>
<rect x="596.9" y="627.5" width="10.10" height="9.30" fill="#F8766D"/>
<text x="612.33" y="636.6" font-size="11.3" fill="#111" textLength="29.50" lengthAdjust="spacingAndGlyphs">DBS1</text>
</svg></body></html>
